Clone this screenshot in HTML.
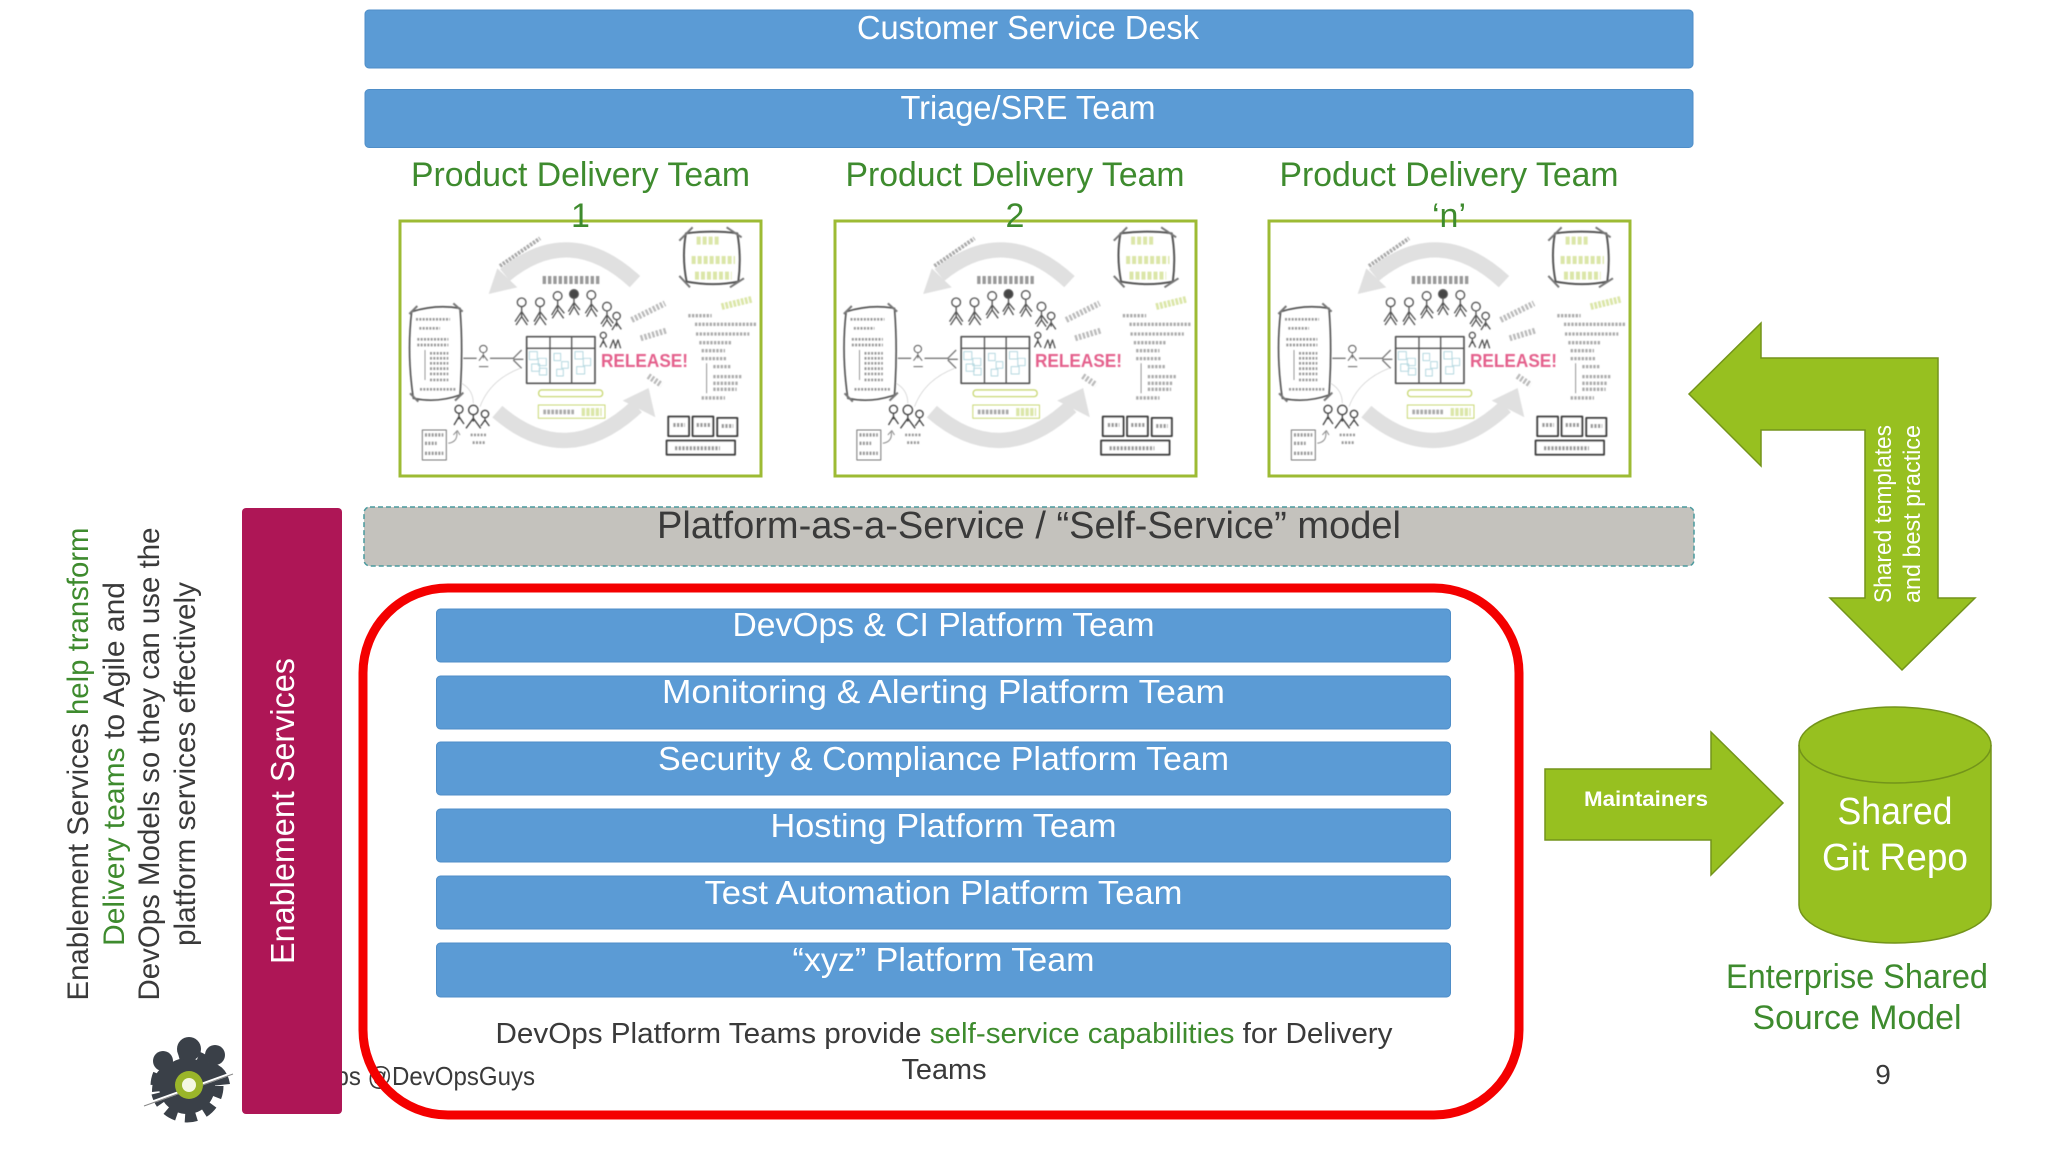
<!DOCTYPE html>
<html lang="en">
<head>
<meta charset="utf-8">
<title>DevOps Platform Teams</title>
<style>
html,body{margin:0;padding:0;background:#fff;width:2048px;height:1152px;overflow:hidden}
svg{display:block}
text{font-family:"Liberation Sans",sans-serif}
.w{fill:#fff;text-anchor:middle;font-size:33px}
.g{fill:#3e8b2e;text-anchor:middle;font-size:34px}
.d{fill:#3a3a3a}
.bar{fill:#5b9bd5;stroke:#4f8ec8;stroke-width:1}
.rel{fill:#e4608c;font-weight:bold;font-size:18px}
</style>
</head>
<body>
<svg width="2048" height="1152" viewBox="0 0 2048 1152" xmlns="http://www.w3.org/2000/svg">
<defs>
<filter id="b" x="-5%" y="-5%" width="110%" height="110%"><feGaussianBlur stdDeviation="1.5"/></filter>
<filter id="b2" x="-5%" y="-20%" width="110%" height="140%"><feGaussianBlur stdDeviation="0.5"/></filter>
<g id="sk" fill="none" stroke-linecap="butt" stroke-linejoin="round">
  <!-- cycle arrows -->
  <path d="M765 395 Q570 215 375 375" stroke="#e0e0e0" stroke-width="46"/>
  <path d="M326 432 L352 355 L412 412 Z" fill="#e0e0e0"/>
  <path d="M352 785 Q560 965 770 770" stroke="#e0e0e0" stroke-width="46"/>
  <path d="M826 802 L806 714 L728 752 Z" fill="#e0e0e0"/>
  <!-- team -->
  <g stroke="#555" stroke-width="4">
    <circle cx="425" cy="457" r="13"/><path d="M425 470 V500 M405 515 L425 485 L445 515 M425 500 L408 525 M425 500 L442 525"/>
    <circle cx="480" cy="457" r="13"/><path d="M480 470 V500 M462 515 L480 485 L500 510 M480 500 L464 525 M480 500 L498 525"/>
    <circle cx="533" cy="438" r="13"/><path d="M533 451 V480 M515 495 L533 465 L553 490 M533 480 L517 505 M533 480 L551 505"/>
    <circle cx="582" cy="432" r="13" fill="#444"/><path d="M582 445 V470 M565 485 L582 458 L600 480 M582 470 L568 495 M582 470 L597 495"/>
    <circle cx="634" cy="435" r="13"/><path d="M634 448 V475 M616 490 L634 462 L653 485 M634 475 L620 500 M634 475 L650 500"/>
    <circle cx="681" cy="470" r="13"/><path d="M681 483 V510 M663 522 L681 495 L700 520 M681 510 L668 530 M681 510 L695 530"/>
    <circle cx="710" cy="498" r="11"/><path d="M710 509 V530 M696 540 L710 518 L724 538"/>
    <circle cx="670" cy="556" r="9"/><path d="M670 565 V580 M660 592 L670 572 L680 592"/>
    <path d="M690 595 L700 570 L708 595 M705 595 L714 570 L722 595"/>
  </g>
  <!-- board -->
  <rect x="440" y="560" width="205" height="140" stroke="#555" stroke-width="5"/>
  <path d="M510 560 V700 M575 560 V700 M440 595 H645" stroke="#555" stroke-width="4"/>
  <g stroke="#b5d8e0" stroke-width="3">
    <rect x="448" y="605" width="24" height="24"/><rect x="475" y="625" width="24" height="22"/><rect x="455" y="642" width="24" height="22"/><rect x="478" y="655" width="22" height="20"/>
    <rect x="522" y="610" width="20" height="22"/><rect x="545" y="635" width="20" height="20"/><rect x="530" y="658" width="20" height="20"/>
    <rect x="585" y="605" width="24" height="22"/><rect x="610" y="625" width="22" height="22"/><rect x="590" y="650" width="24" height="22"/>
  </g>
  <!-- left note -->
  <path d="M95 485 Q170 462 240 475 Q250 600 240 735 Q170 760 100 745 Q80 610 95 485 Z" stroke="#555" stroke-width="5"/>
  <path d="M88 492 L112 468 M220 460 L248 485 M90 730 L115 755 M225 752 L250 728" stroke="#777" stroke-width="6"/>
  <path d="M108 508 H210 M118 535 H180 M112 568 H205 M112 585 H205 M150 610 H205 M150 625 H205 M150 640 H205 M150 656 H205 M150 672 H205 M150 690 H205 M120 718 H230" stroke="#999" stroke-width="8" stroke-dasharray="6 4"/>
  <path d="M135 600 V690" stroke="#666" stroke-width="2"/>
  <!-- links -->
  <path d="M250 625 H290 M330 625 H400 L425 600 M400 628 L430 628 M400 630 L425 655" stroke="#777" stroke-width="4"/>
  <circle cx="310" cy="597" r="11" stroke="#555" stroke-width="3"/>
  <path d="M310 608 V625 M297 632 L310 615 L323 632 M297 650 H325" stroke="#666" stroke-width="3"/>
  <path d="M300 770 Q330 690 420 655 M245 700 Q280 720 280 760" stroke="#ccc" stroke-width="2"/>
  <!-- top right square -->
  <path d="M918 250 Q1000 240 1072 250 Q1085 320 1075 395 Q1000 410 920 395 Q905 320 918 250 Z" stroke="#555" stroke-width="6"/>
  <path d="M898 272 L938 232 M1040 232 L1085 262 M898 378 L930 412 M1050 412 L1092 385" stroke="#777" stroke-width="6"/>
  <path d="M950 272 H1020 M935 330 H1065 M945 377 H1055" stroke="#dbe6a8" stroke-width="24" stroke-dasharray="12 6"/>
  <path d="M1025 470 L1115 448" stroke="#dbe6a8" stroke-width="20" stroke-dasharray="8 4"/>
  <!-- right list -->
  <path d="M925 497 H995 M945 523 H1130 M948 552 H1108 M958 578 H1055 M965 602 H1035 M965 626 H1040 M1000 650 H1055 M1000 680 H1085 M1000 700 H1075 M1000 718 H1070 M965 744 H1035" stroke="#aaa" stroke-width="10" stroke-dasharray="7 4"/>
  <path d="M980 640 V730" stroke="#666" stroke-width="2"/>
  <!-- kanban -->
  <g stroke="#3f3f3f" stroke-width="6" fill="#fff">
    <rect x="865" y="800" width="62" height="58"/><rect x="938" y="800" width="62" height="58"/><rect x="1012" y="804" width="60" height="54"/>
    <rect x="860" y="872" width="205" height="42"/>
  </g>
  <path d="M880 825 H915 M950 825 H990 M1025 828 H1060 M885 895 H1020" stroke="#999" stroke-width="12" stroke-dasharray="7 4"/>
  <!-- bottom left -->
  <g stroke="#444" stroke-width="4">
    <circle cx="237" cy="778" r="12"/><path d="M237 790 V808 M222 825 L237 800 L252 822"/>
    <circle cx="280" cy="780" r="14"/><path d="M280 794 V815 M258 835 L280 805 L302 835"/>
    <circle cx="315" cy="792" r="11"/><path d="M315 803 V815 M302 828 L315 810 L328 828"/>
  </g>
  <rect x="127" y="840" width="72" height="90" stroke="#777" stroke-width="3"/>
  <path d="M135 855 H190 M135 880 H170 M135 910 H190" stroke="#999" stroke-width="10" stroke-dasharray="6 4"/>
  <path d="M205 880 Q235 875 230 845 M220 855 L232 842 L240 855" stroke="#888" stroke-width="3"/>
  <path d="M272 855 H318 M278 878 H315" stroke="#999" stroke-width="8" stroke-dasharray="6 4"/>
  <!-- green boards -->
  <rect x="476" y="720" width="192" height="20" rx="9" stroke="#c9d874" stroke-width="4"/>
  <rect x="475" y="765" width="200" height="40" stroke="#c9d874" stroke-width="3"/>
  <path d="M490 786 H585" stroke="#aaa" stroke-width="14" stroke-dasharray="8 4"/>
  <path d="M605 786 H665" stroke="#dbe6a8" stroke-width="24" stroke-dasharray="10 4"/>
  <!-- tilted labels -->
  <path d="M360 348 L480 265" stroke="#aaa" stroke-width="12" stroke-dasharray="7 4"/>
  <path d="M755 510 L855 460" stroke="#bbb" stroke-width="18" stroke-dasharray="7 5"/>
  <path d="M782 565 L858 542" stroke="#bbb" stroke-width="18" stroke-dasharray="7 5"/>
  <path d="M805 678 L845 705" stroke="#bbb" stroke-width="18" stroke-dasharray="7 5"/>
  <path d="M488 390 H658" stroke="#999" stroke-width="24" stroke-dasharray="10 6"/>
</g>
</defs>

<rect width="2048" height="1152" fill="#fff"/>

<!-- top bars -->
<rect class="bar" x="365" y="10" width="1328" height="58" rx="4"/>
<text class="w" x="1028" y="39" textLength="342" lengthAdjust="spacingAndGlyphs">Customer Service Desk</text>
<rect class="bar" x="365" y="89.500" width="1328" height="58" rx="4"/>
<text class="w" x="1028" y="119" textLength="255" lengthAdjust="spacingAndGlyphs">Triage/SRE Team</text>

<!-- sketch boxes -->
<rect x="400" y="221" width="361" height="255" fill="#fff" stroke="#9dbb34" stroke-width="3"/>
<rect x="835" y="221" width="361" height="255" fill="#fff" stroke="#9dbb34" stroke-width="3"/>
<rect x="1269" y="221" width="361" height="255" fill="#fff" stroke="#9dbb34" stroke-width="3"/>

<g filter="url(#b)" transform="translate(380 150) scale(.3333)"><use href="#sk"/></g>
<g filter="url(#b)" transform="translate(814.5 150) scale(.3333)"><use href="#sk"/></g>
<g filter="url(#b)" transform="translate(1249 150) scale(.3333)"><use href="#sk"/></g>

<text class="rel" filter="url(#b2)" x="601" y="367" textLength="87" lengthAdjust="spacingAndGlyphs">RELEASE!</text>
<text class="rel" filter="url(#b2)" x="1035" y="367" textLength="87" lengthAdjust="spacingAndGlyphs">RELEASE!</text>
<text class="rel" filter="url(#b2)" x="1470" y="367" textLength="87" lengthAdjust="spacingAndGlyphs">RELEASE!</text>

<!-- delivery team labels -->
<text class="g" x="580.5" y="186" textLength="339" lengthAdjust="spacingAndGlyphs">Product Delivery Team</text>
<text class="g" x="580.5" y="227">1</text>
<text class="g" x="1015" y="186" textLength="339" lengthAdjust="spacingAndGlyphs">Product Delivery Team</text>
<text class="g" x="1015" y="227">2</text>
<text class="g" x="1449" y="186" textLength="339" lengthAdjust="spacingAndGlyphs">Product Delivery Team</text>
<text class="g" x="1449" y="227">‘n’</text>

<!-- PaaS -->
<rect x="364" y="507" width="1330" height="59" rx="6" fill="#c4c2bd" stroke="#4a9a9e" stroke-width="1.5" stroke-dasharray="5 3"/>
<text class="d" x="1029" y="538" text-anchor="middle" font-size="38" textLength="744" lengthAdjust="spacingAndGlyphs">Platform-as-a-Service / “Self-Service” model</text>

<!-- footer text -->
<text class="d" x="274" y="1085" font-size="26" textLength="261" lengthAdjust="spacingAndGlyphs">DevOps @DevOpsGuys</text>
<text class="d" x="1883" y="1084" text-anchor="middle" font-size="28">9</text>

<!-- enablement bar -->
<rect x="242" y="508" width="100" height="606" rx="4" fill="#ae1656"/>
<text transform="translate(294 811) rotate(-90)" fill="#fff" text-anchor="middle" font-size="33" textLength="306" lengthAdjust="spacingAndGlyphs">Enablement Services</text>

<!-- rotated left text -->
<g font-size="30" text-anchor="middle" fill="#3a3a3a">
  <text transform="translate(88 764) rotate(-90)" textLength="473" lengthAdjust="spacingAndGlyphs">Enablement Services <tspan fill="#3e8b2e">help transform</tspan></text>
  <text transform="translate(124 764) rotate(-90)" textLength="364" lengthAdjust="spacingAndGlyphs"><tspan fill="#3e8b2e">Delivery teams</tspan> to Agile and</text>
  <text transform="translate(159 764) rotate(-90)" textLength="473" lengthAdjust="spacingAndGlyphs">DevOps Models so they can use the</text>
  <text transform="translate(195 764) rotate(-90)" textLength="364" lengthAdjust="spacingAndGlyphs">platform services effectively</text>
</g>

<!-- logo -->
<g>
  <circle cx="187" cy="1086" r="30" fill="none" stroke="#3a4048" stroke-width="13" stroke-dasharray="11 8"/>
  <circle cx="187" cy="1086" r="28" fill="#3a4048"/>
  <circle cx="189" cy="1049" r="12" fill="#3a4048"/>
  <circle cx="163" cy="1061" r="10" fill="#3a4048"/>
  <circle cx="215" cy="1055" r="10" fill="#3a4048"/>
  <path d="M152 1092 Q152 1066 176 1062 H200 Q226 1060 230 1084 Z" fill="#3a4048"/>
  <line x1="144" y1="1105" x2="233" y2="1073" stroke="#fff" stroke-width="3"/>
  <line x1="144" y1="1106" x2="233" y2="1074" stroke="#888" stroke-width="1"/>
  <circle cx="189" cy="1085" r="14" fill="#9ab52a"/>
  <circle cx="189" cy="1085" r="7" fill="#f4f7e2"/>
</g>

<!-- platform rows -->
<rect class="bar" x="436.500" y="609" width="1014" height="53" rx="4"/>
<text class="w" x="943.500" y="636" textLength="422" lengthAdjust="spacingAndGlyphs">DevOps &amp; CI Platform Team</text>
<rect class="bar" x="436.500" y="676" width="1014" height="53" rx="4"/>
<text class="w" x="943.500" y="703" textLength="563" lengthAdjust="spacingAndGlyphs">Monitoring &amp; Alerting Platform Team</text>
<rect class="bar" x="436.500" y="742" width="1014" height="53" rx="4"/>
<text class="w" x="943.500" y="770" textLength="571" lengthAdjust="spacingAndGlyphs">Security &amp; Compliance Platform Team</text>
<rect class="bar" x="436.500" y="809" width="1014" height="53" rx="4"/>
<text class="w" x="943.500" y="837" textLength="346" lengthAdjust="spacingAndGlyphs">Hosting Platform Team</text>
<rect class="bar" x="436.500" y="876" width="1014" height="53" rx="4"/>
<text class="w" x="943.500" y="904" textLength="478" lengthAdjust="spacingAndGlyphs">Test Automation Platform Team</text>
<rect class="bar" x="436.500" y="943" width="1014" height="54" rx="4"/>
<text class="w" x="943.500" y="971" textLength="302" lengthAdjust="spacingAndGlyphs">“xyz” Platform Team</text>

<text class="d" x="944" y="1043" text-anchor="middle" font-size="29" textLength="897" lengthAdjust="spacingAndGlyphs">DevOps Platform Teams provide <tspan fill="#3e8b2e">self-service capabilities</tspan> for Delivery</text>
<text class="d" x="944" y="1079" text-anchor="middle" font-size="29" textLength="85" lengthAdjust="spacingAndGlyphs">Teams</text>

<!-- red box -->
<rect x="363" y="588" width="1156" height="527" rx="85" fill="none" stroke="#f40000" stroke-width="9"/>

<!-- bent arrow -->
<polygon points="1689,394 1761,323 1761,358 1938,358 1938,598 1975,598 1902,670 1830,598 1865,598 1865,430 1761,430 1761,466" fill="#97c020" stroke="#73941a" stroke-width="1.5"/>
<g fill="#fff" font-size="24">
  <text transform="translate(1891 603) rotate(-90)" textLength="178" lengthAdjust="spacingAndGlyphs">Shared templates</text>
  <text transform="translate(1920 603) rotate(-90)" textLength="178" lengthAdjust="spacingAndGlyphs">and best practice</text>
</g>

<!-- maintainers arrow -->
<polygon points="1545,769 1711,769 1711,732 1783,803 1711,875 1711,840 1545,840" fill="#97c020" stroke="#73941a" stroke-width="1.5"/>
<text x="1584" y="806" fill="#fff" font-size="21" font-weight="bold" textLength="124" lengthAdjust="spacingAndGlyphs">Maintainers</text>

<!-- cylinder -->
<path d="M1799 745 A96 38 0 0 1 1991 745 V905 A96 38 0 0 1 1799 905 Z" fill="#97c020" stroke="#73941a" stroke-width="1.5"/>
<path d="M1799 745 A96 38 0 0 0 1991 745" fill="none" stroke="#73941a" stroke-width="1.5"/>
<text x="1895" y="824" fill="#fff" text-anchor="middle" font-size="38" textLength="115" lengthAdjust="spacingAndGlyphs">Shared</text>
<text x="1895" y="870" fill="#fff" text-anchor="middle" font-size="38" textLength="146" lengthAdjust="spacingAndGlyphs">Git Repo</text>

<text class="g" x="1857" y="988" textLength="262" lengthAdjust="spacingAndGlyphs">Enterprise Shared</text>
<text class="g" x="1857" y="1029" textLength="209" lengthAdjust="spacingAndGlyphs">Source Model</text>
</svg>
</body>
</html>
